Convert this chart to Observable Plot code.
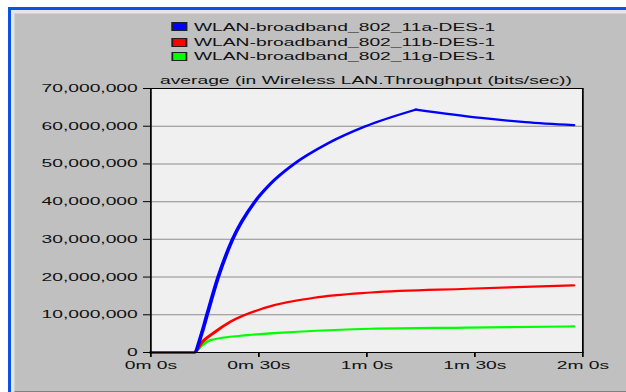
<!DOCTYPE html>
<html>
<head>
<meta charset="utf-8">
<script src="https://cdn.jsdelivr.net/npm/d3@7"></script>
<script src="https://cdn.jsdelivr.net/npm/@observablehq/plot@0.6"></script>
<style>
  html, body { margin: 0; padding: 0; background: #ffffff; width: 626px; height: 392px; overflow: hidden; }
  #outer { position: absolute; left: 8px; top: 7px; width: 615px; height: 382px;
           border-left: 3px solid #0a52e6; border-top: 3px solid #0a52e6; background: #e6e6e6; }
  #inner { position: absolute; left: 3px; top: 3px; right: 0; bottom: 0; background: #c0c0c0;
           border-left: 1px solid #d2d2d2; border-top: 1px solid #d2d2d2; border-bottom: 1px solid #808080; }
  #stage { position: absolute; left: 0; top: 0; width: 357.714px; height: 392px;
           transform: scaleX(1.75); transform-origin: 0 0;
           font-family: "Liberation Sans", Arial, sans-serif; font-size: 11px; color: #000; }
  #stage svg { position: absolute; left: 0; top: 0; }
  .leg { position: absolute; left: 98.3px; height: 14px; line-height: 14px; white-space: nowrap; color: #111; }
  .sw { display: inline-block; width: 7px; height: 7px; border: 0.6px solid #202020; vertical-align: -0.5px; margin-right: 3.5px; }
  #title { position: absolute; left: 85.714px; width: 246.857px; top: 72.7px; line-height: 14px; text-align: center; white-space: nowrap; color: #111; }
</style>
</head>
<body>
<div id="outer"><div id="inner"></div></div>
<div id="stage"></div>
<script>
// Series names and colours
const seriesNames = ["WLAN-broadband_802_11a-DES-1", "WLAN-broadband_802_11b-DES-1", "WLAN-broadband_802_11g-DES-1"];
const seriesColors = ["#0000ff", "#ff0000", "#00ff00"];
const chartTitle = "average (in Wireless LAN.Throughput (bits/sec))";

// Time (seconds) and throughput (millions of bits/sec)
const timeA = [0, 12.0, 14.1, 15.6, 18.7, 22.7, 28.9, 33.3, 39.8, 49.1, 59.7, 73.6, 91.7, 104, 117.4];
const valueA = [0, 0, 5, 10, 20, 30, 40, 44.8, 50, 55.4, 60.0, 64.4, 62.2, 61.1, 60.3];
const peakTimeA = 73.6;

const timeB = [0, 12.0, 13.9, 17.6, 22.2, 31.5, 45.4, 61.1, 88, 117.4];
const valueB = [0, 0, 2.4, 5.3, 8.2, 11.8, 14.5, 15.9, 16.9, 17.8];

const timeG = [0, 12.0, 13.9, 16.7, 26.9, 40.7, 61.1, 88, 117.4];
const valueG = [0, 0, 1.7, 3.3, 4.6, 5.5, 6.3, 6.6, 6.9];

// Axis ticks
const xTicks = [0, 30, 60, 90, 120];
const xTickLabels = ["0m 0s", "0m 30s", "1m 0s", "1m 30s", "2m 0s"];
const yTicks = [0, 10e6, 20e6, 30e6, 40e6, 50e6, 60e6, 70e6];
const gridTicks = [10e6, 20e6, 30e6, 40e6, 50e6, 60e6];

const toRows = (ts, vs) => ts.map((t, i) => ({t, v: vs[i] * 1e6}));
const dataA = toRows(timeA, valueA);
const dataB = toRows(timeB, valueB);
const dataG = toRows(timeG, valueG);

const W = 626 / 1.75;
const lineOpts = (color) => ({x: "t", y: "v", stroke: color, strokeWidth: 2.2, curve: "monotone-x"});
const chart = Plot.plot({
  width: W,
  height: 392,
  marginLeft: 150 / 1.75,
  marginRight: W - 582 / 1.75,
  marginTop: 88,
  marginBottom: 40,
  style: {background: "transparent", fontFamily: "'Liberation Sans', Arial, sans-serif", fontSize: "11px", color: "#000", overflow: "visible"},
  x: {domain: [0, 120], label: null},
  y: {domain: [0, 70e6], label: null},
  marks: [
    Plot.frame({fill: "#f0f0f0", stroke: null}),
    Plot.ruleY(gridTicks, {stroke: "#8c8c8c", strokeWidth: 1}),
    Plot.line(dataG, lineOpts(seriesColors[2])),
    Plot.line(dataB, lineOpts(seriesColors[1])),
    Plot.line(dataA.filter(d => d.t <= peakTimeA), lineOpts(seriesColors[0])),
    Plot.line(dataA.filter(d => d.t >= peakTimeA), lineOpts(seriesColors[0])),
    Plot.frame({stroke: "#000", strokeWidth: 1}),
    Plot.axisX({ticks: xTicks, tickFormat: d => xTickLabels[xTicks.indexOf(d)], tickSize: 5, tickPadding: 4, stroke: "#000", fill: "#111"}),
    Plot.axisY({ticks: yTicks, tickFormat: d3.format(","), tickSize: 4, tickPadding: 3.5, stroke: "#000", fill: "#111"})
  ]
});

const stage = document.getElementById("stage");
stage.appendChild(chart);

// Legend (HTML, above the plot area)
const legendTops = [19.9, 35, 49.3];
seriesNames.forEach((name, i) => {
  const row = document.createElement("div");
  row.className = "leg";
  row.style.top = legendTops[i] + "px";
  const sw = document.createElement("span");
  sw.className = "sw";
  sw.style.background = seriesColors[i];
  row.appendChild(sw);
  row.appendChild(document.createTextNode(name));
  stage.appendChild(row);
});

const title = document.createElement("div");
title.id = "title";
title.textContent = chartTitle;
stage.appendChild(title);
</script>
</body>
</html>
